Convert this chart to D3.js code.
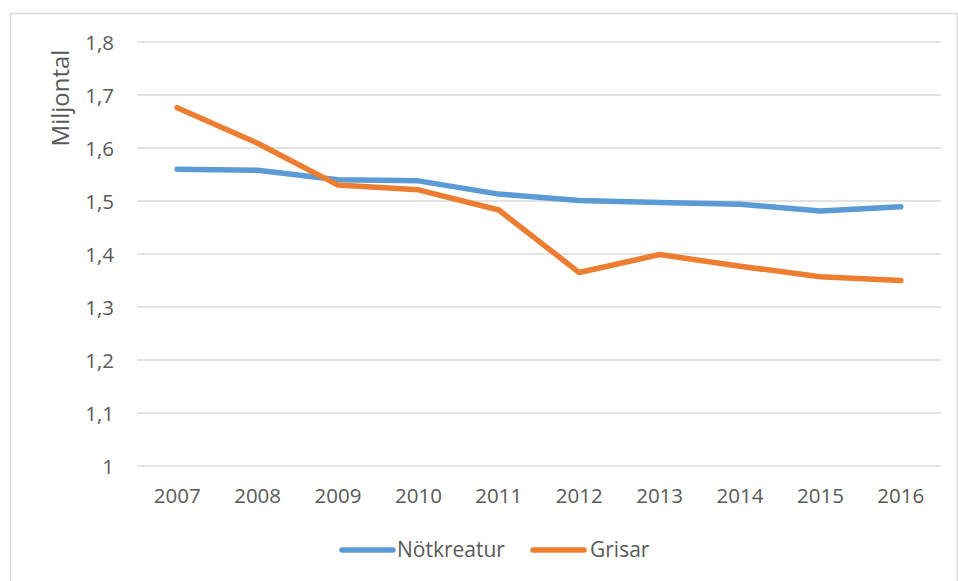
<!DOCTYPE html>
<html><head><meta charset="utf-8">
<script src="https://cdn.jsdelivr.net/npm/d3@7/dist/d3.min.js"></script>
<style>body{margin:0;background:#fff}svg{display:block}</style>
</head><body>
<svg id="c" width="958" height="581"></svg>
<script>
const years = ["2007","2008","2009","2010","2011","2012","2013","2014","2015","2016"];
const notkreatur = [1.560, 1.558, 1.540, 1.538, 1.513, 1.501, 1.497, 1.494, 1.481, 1.489];
const grisar = [1.676, 1.609, 1.530, 1.521, 1.483, 1.365, 1.399, 1.377, 1.357, 1.350];
const yTicks = [1, 1.1, 1.2, 1.3, 1.4, 1.5, 1.6, 1.7, 1.8];
const seriesNames = ["Nötkreatur", "Grisar"];
const colors = ["#5B9BD5", "#ED7D31"];

const svg = d3.select("#c");
const font = "'Open Sans', sans-serif";
const textColor = "#595959";

svg.append("rect").attr("x",10.5).attr("y",13.5).attr("width",947).attr("height",620)
  .attr("fill","#fff").attr("stroke","#d9d9d9").attr("stroke-width",1.5);

const x = d3.scaleBand().domain(years).range([137, 941]);
const y = d3.scaleLinear().domain([1, 1.8]).range([466, 42]);

// gridlines
svg.append("g").selectAll("line").data(yTicks).join("line")
  .attr("x1",137).attr("x2",941).attr("y1",d=>y(d)).attr("y2",d=>y(d))
  .attr("stroke","#d9d9d9").attr("stroke-width",1.5);

const fmt = d => String(d).replace(".", ",");
const yAxis = svg.append("g").attr("transform","translate(114,0)")
  .call(d3.axisLeft(y).tickValues(yTicks).tickFormat(fmt).tickSize(0).tickPadding(0));
yAxis.select(".domain").remove();
yAxis.selectAll("text").attr("font-family",font).attr("font-size",20.5).attr("fill",textColor).attr("dy","0.35em");

const xAxis = svg.append("g").attr("transform","translate(0,496)")
  .call(d3.axisBottom(x).tickSize(0).tickPadding(0));
xAxis.select(".domain").remove();
xAxis.selectAll("text").attr("font-family",font).attr("font-size",20.5).attr("fill",textColor).attr("dy","0.35em");

svg.append("text").attr("transform","translate(69,98) rotate(-90)")
  .attr("text-anchor","middle").attr("font-family",font).attr("font-size",24)
  .attr("fill",textColor).text("Miljontal");

const line = d3.line().x((d,i)=>x(years[i]) + x.bandwidth()/2).y(d=>y(d));
[notkreatur, grisar].forEach((s,i)=>{
  svg.append("path").datum(s).attr("d",line).attr("fill","none")
    .attr("stroke",colors[i]).attr("stroke-width",5.5)
    .attr("stroke-linecap","round").attr("stroke-linejoin","round");
});

// legend
const legendItems = [{x:340, tx:397}, {x:531, tx:590}];
legendItems.forEach((p,i)=>{
  svg.append("line").attr("x1",p.x+2).attr("x2",p.x+53).attr("y1",550).attr("y2",550)
    .attr("stroke",colors[i]).attr("stroke-width",5.5).attr("stroke-linecap","round");
  svg.append("text").attr("x",p.tx).attr("y",550).attr("dy","0.35em")
    .attr("font-family",font).attr("font-size",21).attr("fill",textColor).text(seriesNames[i]);
});
</script>
</body></html>
